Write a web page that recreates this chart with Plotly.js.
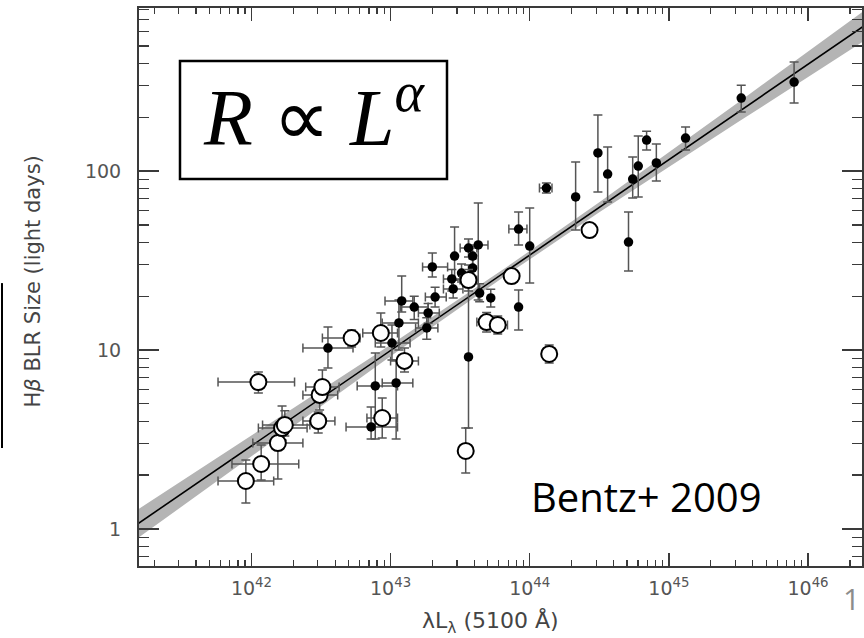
<!DOCTYPE html>
<html>
<head>
<meta charset="utf-8">
<script src="https://cdn.plot.ly/plotly-3.0.1.min.js"></script>
<style>html,body{margin:0;padding:0;background:#fff;}#chart{width:864px;height:638px;}</style>
</head>
<body>
<div id="chart"></div>
<script>
// ---- Data (log10 values) ----
// Filled (black) points
const filledLogL   = [42.55,42.89,43.04,42.86,43.08,43.17,43.06,43.01,43.26,43.27,43.30,43.46,43.56,43.63,43.44,43.45,43.32,43.59,43.51,43.59,43.92,43.64,43.72,43.92,44.00,44.12,44.33,44.49,44.56,44.71,44.74,44.78,44.84,44.91,45.12,45.52,45.90,43.56];
const filledLogR   = [1.011,0.799,0.816,0.570,1.274,1.240,1.151,1.039,1.123,1.207,1.464,1.525,1.570,1.587,1.397,1.341,1.296,1.458,1.430,1.525,1.240,1.318,1.291,1.676,1.581,1.905,1.855,2.101,1.983,1.603,1.955,2.028,2.173,2.045,2.184,2.408,2.497,0.961];
const filledLogLLo = [42.37,42.76,42.94,42.68,42.96,43.07,42.94,42.89,43.18,43.20,43.23,null,43.50,43.56,43.38,43.38,43.25,null,null,null,null,null,null,43.85,null,44.07,null,null,null,null,null,null,null,null,null,null,null,null];
const filledLogLHi = [42.73,43.05,43.16,43.05,43.16,43.27,43.20,43.14,43.34,43.35,43.41,null,43.62,43.70,43.50,43.52,43.40,null,null,null,null,null,null,43.98,null,44.16,null,null,null,null,null,null,null,null,null,null,null,null];
const filledLogRLo = [0.899,0.503,0.503,0.503,1.212,1.170,1.000,0.944,1.060,1.150,1.408,1.391,1.520,1.279,1.330,1.290,1.240,1.400,1.380,1.470,1.112,1.270,1.240,1.587,1.374,1.877,1.670,1.883,1.827,1.441,1.849,1.855,2.117,1.944,2.117,2.330,2.380,0.564];
const filledLogRHi = [1.128,0.983,0.944,0.682,1.413,1.300,1.279,1.140,1.180,1.260,1.542,1.687,1.620,1.821,1.450,1.390,1.350,1.510,1.480,1.580,1.335,1.370,1.340,1.771,1.793,1.933,2.050,2.313,2.134,1.771,2.078,2.196,2.223,2.151,2.246,2.480,2.609,1.475];

// Open (host-corrected) points
const openLogL   = [41.96,42.07,42.19,42.22,42.24,42.48,42.49,42.51,42.05,42.94,42.72,42.93,43.10,43.54,43.56,43.87,44.43,43.69,43.77,44.14];
const openLogR   = [0.268,0.363,0.480,0.564,0.581,0.603,0.749,0.793,0.821,0.620,1.067,1.095,0.939,0.436,1.391,1.413,1.670,1.156,1.140,0.978];
const openLogLLo = [41.76,41.86,42.01,42.05,42.08,42.37,42.37,42.39,41.76,42.83,42.51,42.80,43.00,null,43.50,null,null,43.62,43.70,null];
const openLogLHi = [42.16,42.34,42.37,42.40,42.42,42.60,42.62,42.63,42.31,43.05,42.78,43.05,43.20,null,43.62,null,null,43.76,43.84,null];
const openLogRLo = [0.145,0.274,0.279,0.497,0.520,0.536,0.665,0.721,0.760,0.508,1.017,1.017,0.877,0.313,1.330,null,null,1.100,1.090,0.927];
const openLogRHi = [0.385,0.469,0.542,0.687,0.660,0.654,0.816,0.888,0.877,0.732,1.112,1.207,1.011,0.564,1.450,null,null,1.210,1.190,1.028];

// Best fit line and its uncertainty band (log10 values)
const fitLogL  = [41.0, 46.5];
const fitLogR  = [-0.069, 2.863];
const bandLogL = [41.0, 42.0, 43.0, 43.8, 44.5, 45.5, 46.5];
const bandLo   = [-0.154, 0.406, 0.965, 1.401, 1.769, 2.275, 2.775];
const bandHi   = [0.016, 0.522, 1.029, 1.445, 1.825, 2.385, 2.951];

// Tick labels
const xTickExp = [42, 43, 44, 45, 46];
const yTickVals = [1, 10, 100];
const yTickText = ['1', '10', '100'];

// ---- Build ----
const p = v => Math.pow(10, v);
function errs(c, lo, hi) {
  const plus = [], minus = [];
  for (let i = 0; i < c.length; i++) {
    plus.push(hi[i] == null ? 0 : p(hi[i]) - p(c[i]));
    minus.push(lo[i] == null ? 0 : p(c[i]) - p(lo[i]));
  }
  return {plus, minus};
}
const errColor = '#555';
function makeTrace(L, R, LLo, LHi, RLo, RHi, marker) {
  const ex = errs(L, LLo, LHi), ey = errs(R, RLo, RHi);
  return {
    type: 'scatter', mode: 'markers',
    x: L.map(p), y: R.map(p),
    error_x: {type: 'data', symmetric: false, array: ex.plus, arrayminus: ex.minus, color: errColor, thickness: 1.5, width: 4.5},
    error_y: {type: 'data', symmetric: false, array: ey.plus, arrayminus: ey.minus, color: errColor, thickness: 1.5, width: 4.5},
    marker: marker, hoverinfo: 'x+y', showlegend: false
  };
}

const bandTrace = {
  type: 'scatter', mode: 'lines',
  x: bandLogL.map(p).concat(bandLogL.slice().reverse().map(p)),
  y: bandHi.map(p).concat(bandLo.slice().reverse().map(p)),
  fill: 'toself', fillcolor: '#b4b4b4', line: {width: 0, color: '#b4b4b4'},
  hoverinfo: 'skip', showlegend: false
};
const fitTrace = {
  type: 'scatter', mode: 'lines',
  x: fitLogL.map(p), y: fitLogR.map(p),
  line: {color: '#000', width: 1.6}, hoverinfo: 'skip', showlegend: false
};
const filledTrace = makeTrace(filledLogL, filledLogR, filledLogLLo, filledLogLHi, filledLogRLo, filledLogRHi,
  {color: '#000', size: 9.5, line: {width: 0}});
const openTrace = makeTrace(openLogL, openLogR, openLogLLo, openLogLHi, openLogRLo, openLogRHi,
  {color: '#fff', size: 16, line: {color: '#000', width: 2}});

function minorVals(d0, d1) {
  const v = [];
  for (let d = d0; d <= d1; d++) for (let m = 2; m <= 9; m++) v.push(m * Math.pow(10, d));
  return v;
}

const axisCommon = {
  type: 'log', showgrid: false, zeroline: false,
  showline: true, linecolor: '#3a3a3a', linewidth: 2, mirror: 'allticks',
  ticks: 'inside', tickcolor: '#3a3a3a', tickwidth: 1.5,
  tickfont: {family: 'DejaVu Sans, sans-serif', size: 19, color: '#555'}
};

const layout = {
  width: 864, height: 638,
  margin: {l: 139, r: 2, t: 8, b: 72},
  paper_bgcolor: '#fff', plot_bgcolor: '#fff',
  showlegend: false,
  xaxis: Object.assign({}, axisCommon, {
    range: [41.192, 46.388],
    tickmode: 'array', tickvals: xTickExp.map(p), ticktext: xTickExp.map(e => '10<sup>' + e + '</sup>'),
    ticklen: 13, ticklabelstandoff: 4,
    minor: {tickmode: 'array', tickvals: minorVals(41, 46), ticks: 'inside', ticklen: 6, tickcolor: '#3a3a3a', tickwidth: 1.2}
  }),
  yaxis: Object.assign({}, axisCommon, {
    range: [-0.207, 2.911],
    tickmode: 'array', tickvals: yTickVals, ticktext: yTickText,
    ticklen: 20, ticklabelstandoff: 12,
    minor: {tickmode: 'array', tickvals: minorVals(-1, 2), ticks: 'inside', ticklen: 10, tickcolor: '#3a3a3a', tickwidth: 1.2}
  }),
  shapes: [
    {type: 'rect', xref: 'paper', yref: 'paper', x0: 0.0567, x1: 0.426, y0: 0.6935, y1: 0.905,
     line: {color: '#000', width: 2.5}, fillcolor: '#fff', layer: 'above'},
    {type: 'line', xref: 'paper', yref: 'paper', x0: -0.1895, x1: -0.1895, y0: 0.2115, y1: 0.507,
     line: {color: '#000', width: 2}}
  ],
  annotations: [
    {xref: 'paper', yref: 'paper', x: 0.2420, y: 0.815, xanchor: 'center', yanchor: 'middle', showarrow: false,
     text: '<i>R</i> ∝ <i>L</i><sup><i>α</i></sup>',
     font: {family: 'Liberation Serif, Times New Roman, serif', size: 80, color: '#000'}},
    {xref: 'paper', yref: 'paper', x: 0.7026, y: 0.1254, xanchor: 'center', yanchor: 'middle', showarrow: false,
     text: 'Bentz+ 2009', font: {family: 'Open Sans, sans-serif', size: 40, color: '#000'}},
    {xref: 'paper', yref: 'paper', x: -0.1466, y: 0.510, xanchor: 'center', yanchor: 'middle', showarrow: false,
     textangle: -90, text: 'H<i>β</i> BLR Size (light days)',
     font: {family: 'DejaVu Sans, sans-serif', size: 21, color: '#444'}},
    {xref: 'paper', yref: 'paper', x: 0.486, y: -0.1004, xanchor: 'center', yanchor: 'middle', showarrow: false,
     text: 'λL<sub>λ</sub> (5100 Å)', font: {family: 'DejaVu Sans, sans-serif', size: 22, color: '#444'}},
    {xref: 'paper', yref: 'paper', x: 0.985, y: -0.059, xanchor: 'center', yanchor: 'middle', showarrow: false,
     text: '1', font: {family: 'Open Sans, sans-serif', size: 30, color: '#8c8c8c'}}
  ]
};

Plotly.newPlot('chart', [bandTrace, fitTrace, filledTrace, openTrace], layout, {displayModeBar: false, staticPlot: true});
</script>
</body>
</html>
